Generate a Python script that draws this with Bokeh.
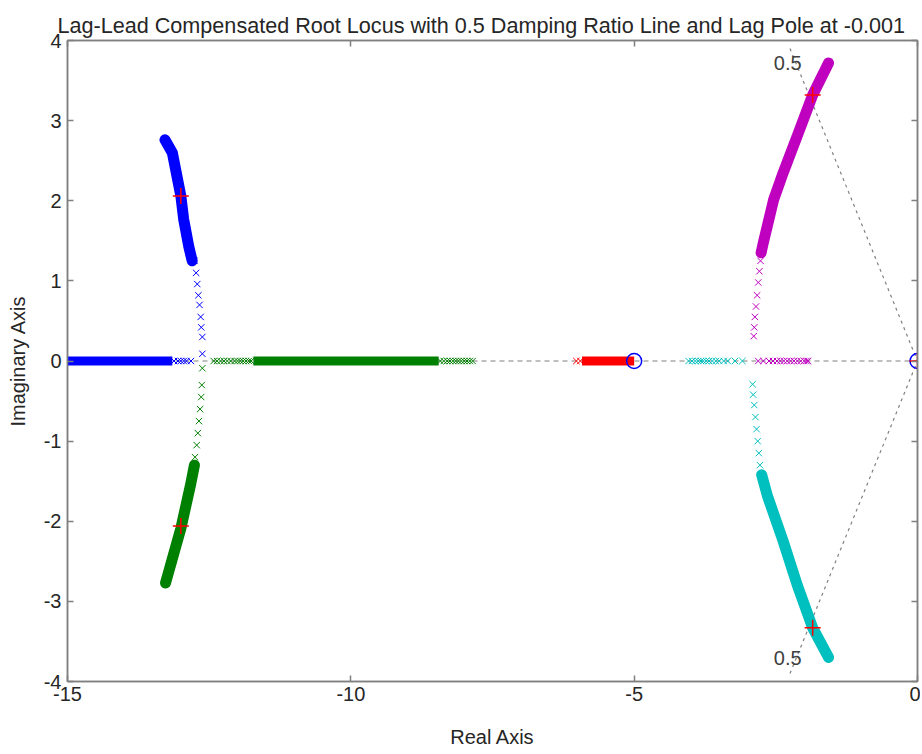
from bokeh.plotting import figure
from bokeh.models import LinearAxis, Range1d, FixedTicker, Label
from bokeh.embed import file_html
from bokeh.resources import INLINE

# ---------------- data ----------------
title_text = "Lag-Lead Compensated Root Locus with 0.5 Damping Ratio Line and Lag Pole at -0.001"
x_ticks = [-15, -10, -5, 0]
y_ticks = [-4, -3, -2, -1, 0, 1, 2, 3, 4]

# dense (solid-looking) parts of each branch
blue_dense_x = [-13.28, -13.15, -13.0, -12.95, -12.86, -12.80]
blue_dense_y = [2.76, 2.6, 2.06, 1.77, 1.43, 1.25]
blue_real_dense_x = [-15.5, -13.15]
green_dense_x = [-13.27, -13.0, -12.83, -12.76]
green_dense_y = [-2.77, -2.09, -1.55, -1.30]
green_real_dense_x = [-11.72, -8.45]
red_real_dense_x = [-5.92, -5.0]
mag_dense_x = [-1.57, -1.85, -2.10, -2.37, -2.54, -2.72, -2.76]
mag_dense_y = [3.72, 3.32, 2.85, 2.35, 2.01, 1.48, 1.35]
cyan_dense_x = [-1.57, -1.85, -2.12, -2.37, -2.65, -2.75]
cyan_dense_y = [-3.70, -3.33, -2.80, -2.25, -1.68, -1.42]

# individually visible 'x' markers
blue_sparse_x = [-12.62, -12.62, -12.64, -12.65, -12.67, -12.69, -12.71, -12.73, -12.76,
                 -13.12, -13.05, -13.0, -12.95, -12.9, -12.82]
blue_sparse_y = [0.09, 0.30, 0.42, 0.55, 0.70, 0.82, 0.96, 1.10, 1.25,
                 0, 0, 0, 0, 0, 0]
green_sparse_x = [-12.62, -12.63, -12.64, -12.66, -12.68, -12.70, -12.72, -12.75,
                  -12.42, -12.36, -12.3, -12.24, -12.18, -12.12, -12.05, -12.0, -11.95,
                  -11.9, -11.85, -11.8, -11.76,
                  -8.42, -8.36, -8.3, -8.25, -8.2, -8.15, -8.1, -8.05, -8.0, -7.95, -7.9, -7.85]
green_sparse_y = [-0.09, -0.30, -0.45, -0.60, -0.75, -0.90, -1.05, -1.20,
                  0, 0, 0, 0, 0, 0, 0, 0, 0,
                  0, 0, 0, 0,
                  0, 0, 0, 0, 0, 0, 0, 0, 0, 0, 0, 0]
red_sparse_x = [-6.02, -5.95]
red_sparse_y = [0, 0]
cyan_sparse_x = [-2.91, -2.90, -2.88, -2.86, -2.84, -2.82, -2.80, -2.78,
                 -4.04, -3.98, -3.92, -3.87, -3.82, -3.78, -3.73, -3.68, -3.62, -3.56,
                 -3.5, -3.42, -3.35, -3.22, -3.09]
cyan_sparse_y = [-0.29, -0.42, -0.55, -0.70, -0.85, -1.00, -1.15, -1.30,
                 0, 0, 0, 0, 0, 0, 0, 0, 0, 0, 0, 0, 0, 0, 0]
mag_sparse_x = [-2.89, -2.88, -2.87, -2.85, -2.83, -2.81, -2.79, -2.77,
                -2.81, -2.72, -2.62, -2.55, -2.48, -2.42, -2.36, -2.30, -2.24,
                -2.18, -2.12, -2.06, -2.0, -1.96, -1.93]
mag_sparse_y = [0.31, 0.42, 0.55, 0.68, 0.82, 0.98, 1.12, 1.25,
                0, 0, 0, 0, 0, 0, 0, 0, 0, 0, 0, 0, 0, 0, 0]

zeros_x = [-5.0, 0.0]
zeros_y = [0.0, 0.0]
sel_x = [-13.0, -13.0, -1.85, -1.85, 0.0]
sel_y = [2.06, -2.06, 3.32, -3.33, 0.0]

zeta_line_x = [-2.25, 0.0, -2.25]
zeta_line_y = [3.9, 0.0, -3.9]
zeta_label_x = [-2.29, -2.29]
zeta_label_y = [3.72, -3.71]
zeta_label = "0.5"

BLUE = "#0000ff"
GREEN = "#008000"
RED = "#ff0000"
CYAN = "#00bfbf"
MAGENTA = "#bf00bf"
GREY = "#808080"
FONT = "Liberation Sans"
TXT = "#262626"
FS = "20px"

p = figure(width=920, height=750, output_backend="svg", toolbar_location=None,
           x_range=Range1d(-15, 0), y_range=Range1d(-4, 4),
           min_border_left=67, min_border_right=3, min_border_top=40, min_border_bottom=67)
p.grid.visible = False
p.outline_line_color = GREY
p.outline_line_width = 1.5
p.background_fill_color = "white"

p.title.text = title_text
p.title.align = "left"
p.title.offset = -10
p.title.text_font = FONT
p.title.text_font_size = "21.6px"
p.title.text_font_style = "normal"
p.title.text_color = TXT
p.title.standoff = 6

for ax in (p.xaxis[0], p.yaxis[0]):
    ax.axis_line_color = GREY
    ax.axis_line_width = 1.5
    ax.major_tick_line_color = GREY
    ax.major_tick_line_width = 1.5
    ax.major_tick_in = 6
    ax.major_tick_out = 0
    ax.minor_tick_line_color = None
    ax.major_label_text_font = FONT
    ax.major_label_text_font_size = FS
    ax.major_label_text_color = TXT
    ax.axis_label_text_font = FONT
    ax.axis_label_text_font_size = FS
    ax.axis_label_text_font_style = "normal"
    ax.axis_label_text_color = TXT

p.xaxis[0].ticker = FixedTicker(ticks=x_ticks)
p.yaxis[0].ticker = FixedTicker(ticks=y_ticks)
p.xaxis[0].major_label_overrides = {t: str(t) for t in x_ticks}
p.yaxis[0].major_label_overrides = {t: str(t) for t in y_ticks}
p.xaxis[0].axis_label = "Real Axis"
p.yaxis[0].axis_label = "Imaginary Axis"
p.xaxis[0].major_label_standoff = 5
p.yaxis[0].major_label_standoff = 6
p.xaxis[0].axis_label_standoff = 22
p.yaxis[0].axis_label_standoff = 12

# box ticks on top and right (drawn as unlabeled minor ticks)
for loc, tk in (("right", y_ticks), ("above", x_ticks)):
    ax = LinearAxis(ticker=FixedTicker(ticks=[], minor_ticks=tk))
    ax.axis_line_color = GREY
    ax.axis_line_width = 1.5
    ax.major_tick_line_color = None
    ax.minor_tick_line_color = GREY
    ax.minor_tick_line_width = 1.5
    ax.minor_tick_in = 6
    ax.minor_tick_out = 0
    ax.major_label_standoff = 0
    p.add_layout(ax, loc)

# real axis and damping ratio lines
p.line([-15, 0], [0, 0], line_color=GREY, line_dash="5 4", line_width=1.2)
p.line(zeta_line_x, zeta_line_y, line_color=GREY, line_dash="3 4", line_width=1.2)

# dense bands
W = 11
for bx, by, col in ((blue_dense_x, blue_dense_y, BLUE), (green_dense_x, green_dense_y, GREEN),
                    (mag_dense_x, mag_dense_y, MAGENTA), (cyan_dense_x, cyan_dense_y, CYAN)):
    p.line(bx, by, line_color=col, line_width=W, line_join="round", line_cap="round")
p.line(blue_real_dense_x, [0, 0], line_color=BLUE, line_width=9)
p.line(green_real_dense_x, [0, 0], line_color=GREEN, line_width=9)
p.line(red_real_dense_x, [0, 0], line_color=RED, line_width=9)

MS = 9
p.scatter(blue_dense_x, blue_dense_y, marker="x", size=MS, line_color=BLUE)
p.scatter(green_dense_x, green_dense_y, marker="x", size=MS, line_color=GREEN)
p.scatter(mag_dense_x, mag_dense_y, marker="x", size=MS, line_color=MAGENTA)
p.scatter(cyan_dense_x, cyan_dense_y, marker="x", size=MS, line_color=CYAN)

p.scatter(blue_sparse_x, blue_sparse_y, marker="x", size=MS, line_color=BLUE)
p.scatter(green_sparse_x, green_sparse_y, marker="x", size=MS, line_color=GREEN)
p.scatter(red_sparse_x, red_sparse_y, marker="x", size=MS, line_color=RED)
p.scatter(cyan_sparse_x, cyan_sparse_y, marker="x", size=MS, line_color=CYAN)
p.scatter(mag_sparse_x, mag_sparse_y, marker="x", size=MS, line_color=MAGENTA)

p.scatter(zeros_x, zeros_y, marker="circle", size=15, fill_color=None, line_color=BLUE, line_width=1.5)
p.scatter(sel_x, sel_y, marker="cross", size=16, line_color=RED, line_width=1.5)

for lx, ly in zip(zeta_label_x, zeta_label_y):
    p.add_layout(Label(x=lx, y=ly, text=zeta_label, text_font=FONT, text_font_size=FS,
                       text_color="#404040", text_align="center", text_baseline="middle"))

open("out.html", "w").write(file_html(p, INLINE))
